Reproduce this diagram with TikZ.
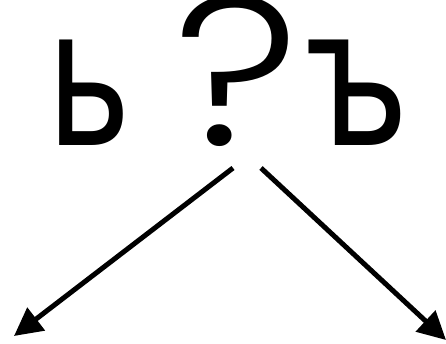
\documentclass[tikz,border=0pt]{standalone}
\usepackage{fontspec}
\setmainfont{DejaVu Sans}
\newfontfamily\qfont{Poppins Light}
\usetikzlibrary{arrows.meta}
\begin{document}
\begin{tikzpicture}[x=1pt,y=1pt,
  glyph/.style={inner sep=0pt,anchor=base,font=\fontsize{193}{200}\selectfont},
  arr/.style={line width=5pt,-{Triangle[length=28pt,width=28pt]}}]
\useasboundingbox[fill=white] (0,0) rectangle (446,343);
\node[glyph] (soft) at (89,197) {\scalebox{0.75}[1]{ь}};
\node[glyph,font=\qfont\fontsize{212}{212}\selectfont] (q) at (237,197) {\scalebox{1.15}[1]{?}};
\node[glyph] (hard) at (357,197) {\scalebox{0.77}[1]{ъ}};
\coordinate (la) at (233,175);
\coordinate (lb) at (14,7);
\coordinate (ra) at (261,175);
\coordinate (rb) at (446,3);
\draw[arr] (la) -- (lb);
\draw[arr] (ra) -- (rb);
\end{tikzpicture}
\end{document}
